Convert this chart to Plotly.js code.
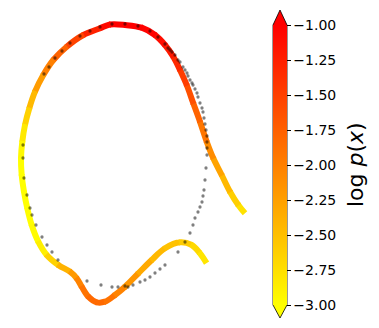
<!DOCTYPE html>
<html><head><meta charset="utf-8">
<script src="https://cdn.plot.ly/plotly-3.0.1.min.js"></script>
<style>html,body{margin:0;padding:0;background:#fff}#chart{width:379px;height:328px}</style>
</head><body><div id="chart"></div>
<script>
// Curve path and its log-density value
const curveX = [245,238.3,230,221.7,213.3,206.7,200,193.3,186.7,180,173.3,165,155,141.7,125,110,100,83.3,66.7,53.3,43.3,35,29.3,25,22.3,21,21.7,24,27.3,31.7,38.3,46.7,58.3,70,76.7,81.7,88.3,96.7,105,115,125,138.3,151.7,165,180,191.7,200,206.7];
const curveY = [213.3,205,191.7,175,158.3,141.7,121.7,103.3,85,70,56.7,45,35,27.7,25,24.5,28.3,35,46.7,60,75,91.7,108.3,125,141.7,158.3,175,191.7,208.3,225,241.7,255,265,271.7,278.3,286.7,296.7,302.3,301.7,295,286.7,273.3,260,248.3,242.3,245,253.3,263.3];
const curveLogP = [-2.85,-2.7,-2.55,-2.35,-2.2,-2.0,-1.85,-1.7,-1.55,-1.4,-1.25,-1.15,-1.05,-1.0,-1.0,-1.02,-1.12,-1.4,-1.65,-1.9,-2.1,-2.35,-2.55,-2.75,-2.9,-3.0,-3.0,-3.0,-3.0,-2.98,-2.95,-2.8,-2.5,-2.3,-2.1,-1.95,-1.85,-1.8,-1.85,-1.95,-2.1,-2.25,-2.4,-2.5,-2.55,-2.65,-2.75,-2.85];
// Sample points (black dots)
const dotsX = [44,49,55,62,70,80,90,100,112,125,138,150,158,165,168,170,172,175,178,180,183,185,187,188,190,192,193,195,197,198,200,202,203,204,205,206,207,207,207,207,206,205,204,203,202,200,198,195,193,190,185,178,165,160,155,150,145,140,133,128,125,118,112,101,87,58,52,47,42,36,32,30,27,24,23,23];
const dotsY = [74,67,58,51,43,36,31,27,24,24,26,31,37,44,48,50,52,55,60,62,67,70,73,76,80,83,85,89,93,97,103,108,112,118,124,130,136,142,148,155,168,180,190,196,202,207,212,218,225,233,242,252,265,269,273,277,280,282,285,287,286,287,287,285,281,260,252,245,237,225,215,208,195,178,158,145];
// Colour bar
const cbMin = -3, cbMax = -1;
const cbTicks = [-3,-2.75,-2.5,-2.25,-2,-1.75,-1.5,-1.25,-1];

function col(v){
  let t = (v - cbMin) / (cbMax - cbMin); t = Math.max(0, Math.min(1, t));
  return 'rgb(255,' + Math.round(255 * (1 - t)) + ',0)';
}
// The whole curve is one smooth spline; each copy shows only one stretch of it
// (via its dash pattern) in that stretch's colour. Axis units equal screen pixels here.
const traces = [];
let run = 0;
for (let i = 0; i < curveX.length - 1; i++) {
  const seg = Math.hypot(curveX[i+1]-curveX[i], curveY[i+1]-curveY[i]);
  const start = Math.max(0, run - 0.6), len = seg + 1.2;
  const dash = start > 0 ? `0px,${start.toFixed(2)}px,${len.toFixed(2)}px,3000px` : `${len.toFixed(2)}px,3000px`;
  traces.push({type:'scatter', mode:'lines', x:curveX, y:curveY,
    line:{color:col((curveLogP[i]+curveLogP[i+1])/2), width:6, shape:'spline', smoothing:1, dash:dash},
    hoverinfo:'skip', showlegend:false});
  run += seg;
}
traces.push({type:'scatter', mode:'markers', x:curveX, y:curveY, showlegend:false, hoverinfo:'skip',
  marker:{size:1, opacity:0, color:curveLogP, cmin:cbMin, cmax:cbMax, line:{width:0},
    colorscale:[[0,'rgb(255,255,0)'],[1,'rgb(255,0,0)']], showscale:true,
    colorbar:{x:273/379, xanchor:'left', xpad:0, ypad:0, y:1-165/328, yanchor:'middle',
      len:280/328, lenmode:'fraction', thickness:14, thicknessmode:'pixels',
      outlinewidth:0, ticks:'outside', ticklen:4, tickwidth:1, tickcolor:'black',
      tickvals:cbTicks, tickformat:'.2f', tickfont:{family:'DejaVu Sans', size:14, color:'black'}}}});
traces.push({type:'scatter', mode:'markers', x:dotsX, y:dotsY, showlegend:false,
  marker:{size:3.3, color:'black', opacity:0.5, line:{width:0}}});

const px = v => v/379, py = v => 1 - v/328;
const shapes = [
  {type:'path', xref:'paper', yref:'paper', path:`M ${px(273)},${py(25)} L ${px(280)},${py(10)} L ${px(287)},${py(25)} Z`, fillcolor:'rgb(255,0,0)', line:{width:0}},
  {type:'path', xref:'paper', yref:'paper', path:`M ${px(273)},${py(305)} L ${px(280)},${py(318)} L ${px(287)},${py(305)} Z`, fillcolor:'rgb(255,255,0)', line:{width:0}},
  {type:'path', xref:'paper', yref:'paper', path:`M ${px(273)},${py(25)} L ${px(280)},${py(10)} L ${px(287)},${py(25)} L ${px(287)},${py(305)} L ${px(280)},${py(318)} L ${px(273)},${py(305)} Z`, line:{color:'black', width:0.8}}
];
Plotly.newPlot('chart', traces, {
  width:379, height:328, margin:{l:0,r:0,t:0,b:0}, paper_bgcolor:'white', plot_bgcolor:'white',
  xaxis:{range:[0,379], visible:false, fixedrange:true},
  yaxis:{range:[328,0], visible:false, fixedrange:true},
  shapes:shapes, showlegend:false,
  annotations:[{xref:'paper', yref:'paper', x:px(355), y:py(165), xanchor:'center', yanchor:'middle',
    text:'log <i>p</i>(<i>x</i>)', textangle:-90, showarrow:false,
    font:{family:'DejaVu Sans', size:22, color:'black'}}]
}, {staticPlot:true});
</script></body></html>
